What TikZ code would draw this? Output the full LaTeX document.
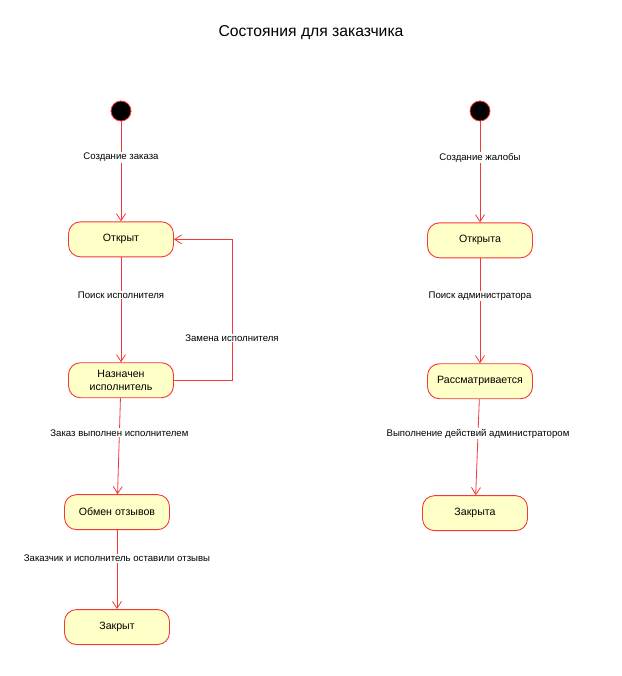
\documentclass[tikz,border=0pt]{standalone}
\usepackage{fontspec}
\setmainfont{Liberation Sans}
\usetikzlibrary{arrows.meta, positioning}

\definecolor{umlred}{RGB}{245,55,55}
\definecolor{umlfill}{RGB}{255,255,200}

\begin{document}
\begin{tikzpicture}[
		x=1pt, y=-1pt,
		node distance=100pt,
		% Define styles
		initial/.style={circle, minimum size=20pt, inner sep=0pt, fill=black, draw=umlred, line width=0.8pt},
		state/.style={rectangle, minimum width=105pt, minimum height=35pt, text centered, align=center, draw=umlred, fill=umlfill, line width=0.9pt, rounded corners=12pt, font=\fontsize{10.6}{12.5}\selectfont},
		arrow/.style={draw=umlred, line width=0.8pt, -{Straight Barb[length=7pt, width=9pt]}},
		trans/.style={fill=white, inner sep=1pt, pos=.36, font=\fontsize{9.6}{11.5}\selectfont}
		]
		
		\useasboundingbox (0,0) rectangle (621,676);
		
		% Title
		\node (title) at (311,33) {\fontsize{15.7}{19}\selectfont Состояния для заказчика};
		
		% Order states
		\node (startorder) [initial] at (121,111) {};
		\node (opened) [state, below=100pt of startorder] {Открыт};
		\node (assigned) [state, below=105pt of opened] {Назначен\\исполнитель};
		\node (exchange) [state, below=96pt of assigned, xshift=-4pt] {Обмен отзывов};
		\node (closed) [state, below=79pt of exchange] {Закрыт};
		
		% Complaint states
		\node (startcomplaint) [initial] at (480,111) {};
		\node (openedc) [state, below=101pt of startcomplaint] {Открыта};
		\node (review) [state, below=105pt of openedc] {Рассматривается};
		\node (closedc) [state, below=96pt of review, xshift=-5pt] {Закрыта};
		
		% Draw arrows
		\draw [arrow] (startorder) -- node[trans] {Создание заказа} (opened);
		\draw [arrow] (opened) -- node[trans] {Поиск исполнителя} (assigned);
		\draw [arrow] (assigned.east) -- ++(58,0) |- node[trans, pos=.15] {Замена исполнителя} (opened.east);
		\draw [arrow] (assigned) -- node[trans] {Заказ выполнен исполнителем} (exchange);
		\draw [arrow] (exchange) -- node[trans] {Заказчик и исполнитель оставили отзывы} (closed);
		
		\draw [arrow] (startcomplaint) -- node[trans] {Создание жалобы} (openedc);
		\draw [arrow] (openedc) -- node[trans] {Поиск администратора} (review);
		\draw [arrow] (review) -- node[trans] {Выполнение действий администратором} (closedc);
		
	\end{tikzpicture}
\end{document}
